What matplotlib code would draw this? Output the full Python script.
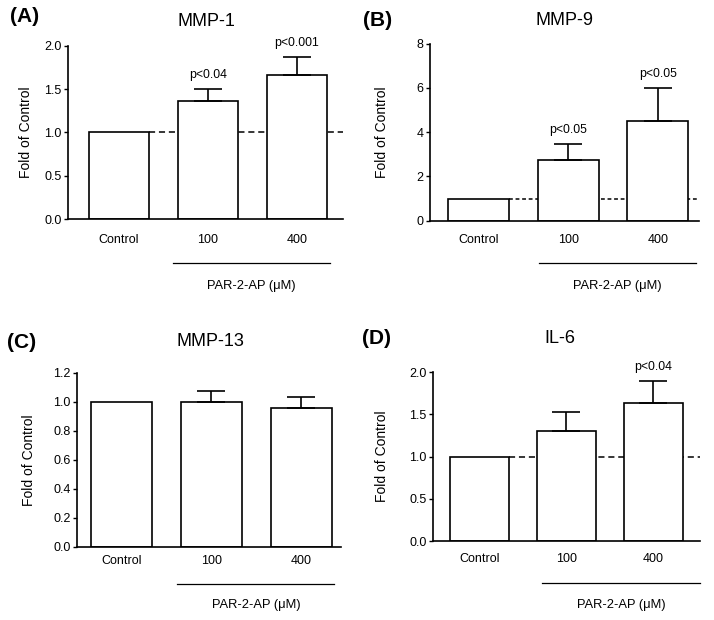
import matplotlib.pyplot as plt
import numpy as np

plt.rcParams['font.family'] = ['Liberation Sans', 'DejaVu Sans']

W, H = 714, 620

################################ data ########################################
groups = ['Control', '100', '400']

mmp1_mean = [1.0, 1.36, 1.66]
mmp1_err = [0.0, 0.14, 0.21]
mmp1_p = ['', 'p<0.04', 'p<0.001']

mmp9_mean = [1.0, 2.74, 4.52]
mmp9_err = [0.0, 0.71, 1.48]
mmp9_p = ['', 'p<0.05', 'p<0.05']

mmp13_mean = [1.0, 0.995, 0.956]
mmp13_err = [0.0, 0.08, 0.078]
mmp13_p = ['', '', '']

il6_mean = [1.0, 1.31, 1.64]
il6_err = [0.0, 0.22, 0.26]
il6_p = ['', '', 'p<0.04']

baseline = 1.0

################################ layout ######################################
# axes in pixels: left, right, top, bottom
panels = [
    dict(tag='(A)', title='MMP-1', mean=mmp1_mean, err=mmp1_err, p=mmp1_p,
         box=(68, 343, 45.7, 219), xlim=(-0.573, 2.517), ylim=(0, 2.0),
         yticks=np.arange(0, 2.01, 0.5), fmt='%.1f', dash=(0, (4, 2.5)),
         xpad=11, line=(0.607, 2.37), line_dy=44, lab_dy=67, ylab_dx=35,
         title_xy=(206, 21), tag_xy=(10, 17)),
    dict(tag='(B)', title='MMP-9', mean=mmp9_mean, err=mmp9_err, p=mmp9_p,
         box=(430, 699, 43.7, 220.7), xlim=(-0.54, 2.46), ylim=(0, 8),
         yticks=np.arange(0, 8.1, 2), fmt='%d', dash=(0, (2.5, 1.8)),
         xpad=9.5, line=(0.675, 2.43), line_dy=42.6, lab_dy=65, ylab_dx=41,
         title_xy=(564.7, 20.7), tag_xy=(363, 20.7)),
    dict(tag='(C)', title='MMP-13', mean=mmp13_mean, err=mmp13_err, p=mmp13_p,
         box=(76.7, 340.7, 372.7, 546.7), xlim=(-0.50, 2.44), ylim=(0, 1.2),
         yticks=np.arange(0, 1.21, 0.2), fmt='%.1f', dash=None,
         xpad=6, line=(0.62, 2.37), line_dy=37.3, lab_dy=58.3, ylab_dx=41,
         title_xy=(210, 341.7), tag_xy=(7, 343)),
    dict(tag='(D)', title='IL-6', mean=il6_mean, err=il6_err, p=il6_p,
         box=(433, 700.3, 372.3, 541), xlim=(-0.53, 2.54), ylim=(0, 2.0),
         yticks=np.arange(0, 2.01, 0.5), fmt='%.1f', dash=(0, (4, 2.5)),
         xpad=8.5, line=(0.72, 2.54), line_dy=42.3, lab_dy=64, ylab_dx=44,
         title_xy=(560, 338.3), tag_xy=(362, 338)),
]

fig = plt.figure(figsize=(W / 100, H / 100), dpi=100)
x = np.arange(len(groups))
bw = 0.68

for pn in panels:
    l, r, t, b = pn['box']
    ax = fig.add_axes([l / W, 1 - b / H, (r - l) / W, (b - t) / H])
    ax_h = b - t

    if pn['dash'] is not None:
        ax.plot([bw / 2, pn['xlim'][1]], [baseline, baseline], color='k',
                lw=1.1, linestyle=pn['dash'], zorder=1)

    ax.bar(x, pn['mean'], width=bw, color='white', edgecolor='k',
           linewidth=1.2, zorder=2)
    for xi, m, e, ptxt in zip(x, pn['mean'], pn['err'], pn['p']):
        if e > 0:
            ax.errorbar(xi, m, yerr=[[0], [e]], fmt='none', ecolor='k',
                        elinewidth=1.2, capsize=10, capthick=1.2, zorder=3)
        if ptxt:
            ax.annotate(ptxt, (xi, m + e), xytext=(0, 10),
                        textcoords='offset points', ha='center', va='center',
                        fontsize=8.8)

    ax.set_xlim(*pn['xlim'])
    ax.set_ylim(*pn['ylim'])
    ax.set_yticks(pn['yticks'])
    ax.set_yticklabels([pn['fmt'] % v for v in pn['yticks']])
    ax.set_xticks(x)
    ax.set_xticklabels(groups)
    ax.tick_params(axis='y', length=3, width=1, pad=1.5, labelsize=9)
    ax.tick_params(axis='x', length=0, pad=pn['xpad'], labelsize=9)
    for s in ['top', 'right']:
        ax.spines[s].set_visible(False)
    for s in ['left', 'bottom']:
        ax.spines[s].set_linewidth(1.2)

    ax.set_ylabel('Fold of Control', fontsize=10)
    ax.yaxis.set_label_coords(-pn['ylab_dx'] / (r - l), 0.5)

    # PAR-2-AP bracket line and label
    x0, x1 = pn['line']
    trans = ax.get_xaxis_transform()
    ax.plot([x0, x1], [-pn['line_dy'] / ax_h] * 2, color='k', lw=0.9,
            transform=trans, clip_on=False)
    ax.text((x0 + x1) / 2, -pn['lab_dy'] / ax_h, 'PAR-2-AP (\u03bcM)',
            transform=trans, ha='center', va='center', fontsize=9.3)

    fig.text(pn['title_xy'][0] / W, 1 - pn['title_xy'][1] / H, pn['title'],
             ha='center', va='center', fontsize=13)
    fig.text(pn['tag_xy'][0] / W, 1 - pn['tag_xy'][1] / H, pn['tag'],
             ha='left', va='center', fontsize=15, fontweight='bold')

fig.savefig('out.png', dpi=100)
